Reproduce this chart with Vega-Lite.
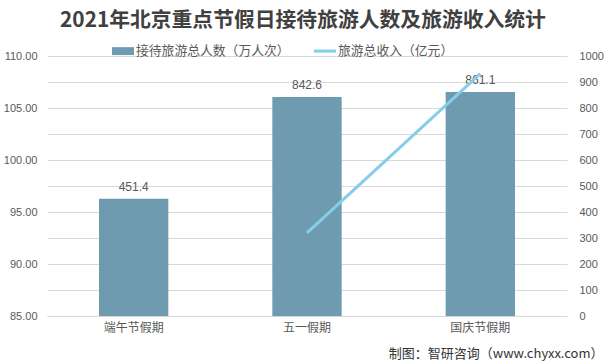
{
  "$schema": "https://vega.github.io/schema/vega-lite/v6.json",
  "width": 520,
  "height": 260,
  "autosize": {"type": "none"},
  "padding": {"left": 47, "right": 39, "top": 56, "bottom": 48},
  "background": "#ffffff",
  "title": {
    "text": "2021年北京重点节假日接待旅游人数及旅游收入统计",
    "font": "Noto Sans CJK SC",
    "fontSize": 20.8,
    "fontWeight": "bold",
    "color": "#404040",
    "anchor": "middle",
    "frame": "group",
    "dx": -4,
    "offset": 8
  },
  "config": {
    "view": {"stroke": null},
    "font": "Noto Sans CJK SC"
  },
  "data": {
    "values": [
      {"holiday": "端午节假期", "people": 451.4, "revenue": null},
      {"holiday": "五一假期", "people": 842.6, "revenue": 93.0},
      {"holiday": "国庆节假期", "people": 861.1, "revenue": 108.3}
    ]
  },
  "encoding": {
    "x": {
      "field": "holiday",
      "type": "nominal",
      "sort": null,
      "scale": {"paddingInner": 0, "paddingOuter": 0},
      "axis": {
        "title": "制图：智研咨询（www.chyxx.com）",
        "titleFont": "Noto Sans CJK SC",
        "titleFontSize": 13,
        "titleFontWeight": "normal",
        "titleColor": "#333333",
        "titleAnchor": "end",
        "titleAlign": "right",
        "titleBaseline": "alphabetic",
        "titleX": 556,
        "titleY": 41,
        "labelAngle": 0,
        "labelFontSize": 12,
        "labelColor": "#595959",
        "labelPadding": 6,
        "ticks": false,
        "domainColor": "#d9d9d9",
        "grid": false
      }
    }
  },
  "layer": [
    {
      "mark": {"type": "bar", "width": {"band": 0.4}, "color": "#6f9bb0"},
      "encoding": {
        "y": {
          "field": "people",
          "type": "quantitative",
          "scale": {"domain": [0, 1000]},
          "axis": {
            "orient": "right",
            "title": null,
            "values": [0, 100, 200, 300, 400, 500, 600, 700, 800, 900, 1000],
            "format": "d",
            "labelFontSize": 11,
            "labelFont": "Liberation Sans",
            "labelColor": "#595959",
            "labelPadding": 12,
            "ticks": false,
            "domain": false,
            "grid": true,
            "gridColor": "#d9d9d9"
          }
        },
        "color": {
          "datum": "接待旅游总人数（万人次）",
          "type": "nominal",
          "scale": {
            "domain": ["接待旅游总人数（万人次）", "旅游总收入（亿元）"],
            "range": ["#6f9bb0", "#86cdea"]
          },
          "legend": {
            "title": null,
            "orient": "none",
            "direction": "horizontal",
            "legendX": 65,
            "legendY": -16,
            "columnPadding": 24,
            "symbolSize": 484,
            "labelFontSize": 12.8,
            "labelColor": "#595959",
            "labelOffset": 2,
            "encode": {
              "symbols": {
                "update": {
                  "shape": {"signal": "datum.value === '旅游总收入（亿元）' ? 'M-1,-0.14H1V0.14H-1Z' : 'M-1,-0.36H1V0.36H-1Z'"},
                  "strokeWidth": {"value": 0}
                }
              }
            }
          }
        }
      }
    },
    {
      "mark": {"type": "text", "dy": -12, "fontSize": 12, "color": "#595959", "font": "Liberation Sans"},
      "encoding": {
        "y": {"field": "people", "type": "quantitative", "scale": {"domain": [0, 1000]}, "axis": null},
        "text": {"field": "people", "type": "quantitative", "format": ".1f"}
      }
    },
    {
      "mark": {"type": "line", "strokeWidth": 3, "color": "#86cdea"},
      "encoding": {
        "y": {
          "field": "revenue",
          "type": "quantitative",
          "scale": {"domain": [85, 110]},
          "axis": {
            "orient": "left",
            "title": null,
            "values": [85, 90, 95, 100, 105, 110],
            "format": ".2f",
            "labelFontSize": 11,
            "labelFont": "Liberation Sans",
            "labelColor": "#595959",
            "labelPadding": 10,
            "ticks": false,
            "domain": false,
            "grid": false
          }
        },
        "color": {"datum": "旅游总收入（亿元）", "type": "nominal"}
      }
    }
  ],
  "resolve": {"scale": {"y": "independent"}}
}
